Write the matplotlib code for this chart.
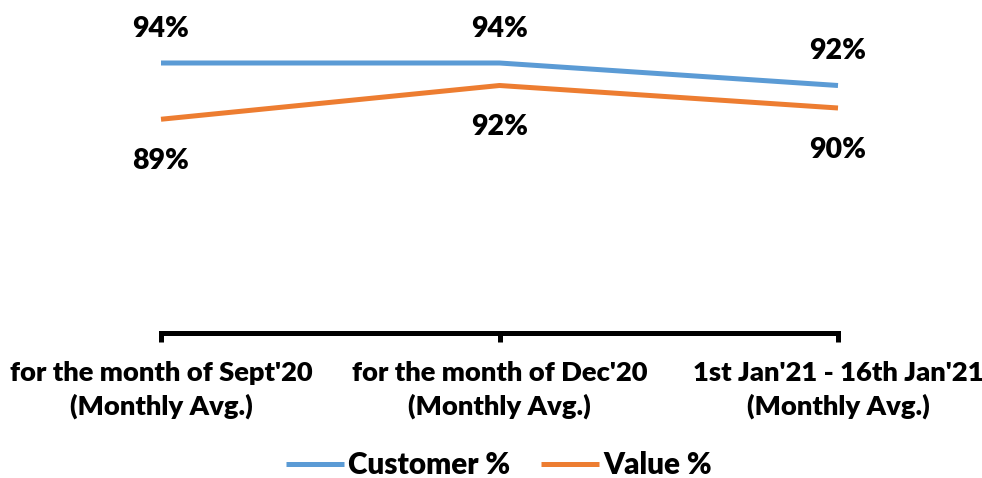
import matplotlib
matplotlib.use("Agg")
import matplotlib.pyplot as plt

categories = ["for the month of Sept'20\n(Monthly Avg.)",
              "for the month of Dec'20\n(Monthly Avg.)",
              "1st Jan'21 - 16th Jan'21\n(Monthly Avg.)"]
customer_pct = [94, 94, 92]
value_pct = [89, 92, 90]

FONT = ["Lato", "DejaVu Sans"]
plt.rcParams['font.family'] = FONT
WEIGHT = 'heavy'

fig = plt.figure(figsize=(9.82, 4.78), dpi=100)
W, H = 982, 478
x0, x1 = 161, 838
ybot, ytop = 333, -4.5
ax = fig.add_axes([x0 / W, (H - ybot) / H, (x1 - x0) / W, (ybot - ytop) / H])
ax.patch.set_alpha(0)

xs = list(range(len(categories)))
blue = "#5B9BD5"
orange = "#ED7D31"
ax.plot(xs, customer_pct, color=blue, lw=3.6, solid_capstyle='butt', label="Customer %", clip_on=False)
ax.plot(xs, value_pct, color=orange, lw=3.6, solid_capstyle='butt', label="Value %", clip_on=False)

ax.set_xlim(0, 2)
ax.set_ylim(70, 100)

for s in ["top", "right", "left"]:
    ax.spines[s].set_visible(False)
ax.spines["bottom"].set_linewidth(3.6)
ax.spines["bottom"].set_color("black")
ax.spines["bottom"].set_capstyle("projecting")
ax.set_yticks([])
ax.set_xticks(xs)
ax.set_xticklabels(categories, fontsize=19.7, fontweight=WEIGHT, linespacing=1.42)
ax.tick_params(axis='x', length=6.5, width=3.6, color='black', pad=13.5, direction='out')

for x, v in zip(xs, customer_pct):
    ax.annotate(f"{v}%", (x, v), xytext=(0, 24.5), textcoords='offset points',
                ha='center', va='center', fontsize=20.5, fontweight=WEIGHT)
for x, v in zip(xs, value_pct):
    ax.annotate(f"{v}%", (x, v), xytext=(0, -30), textcoords='offset points',
                ha='center', va='center', fontsize=20.5, fontweight=WEIGHT)

leg = fig.legend(loc='center', bbox_to_anchor=((W / 2 + 8) / W, (H - 465.5) / H), ncol=2, frameon=False,
                 prop={'family': FONT, 'weight': WEIGHT, 'size': 21.3},
                 handlelength=1.95, handletextpad=0.14, columnspacing=1.05,
                 borderpad=0.1)

fig.savefig("out.png", dpi=100)
